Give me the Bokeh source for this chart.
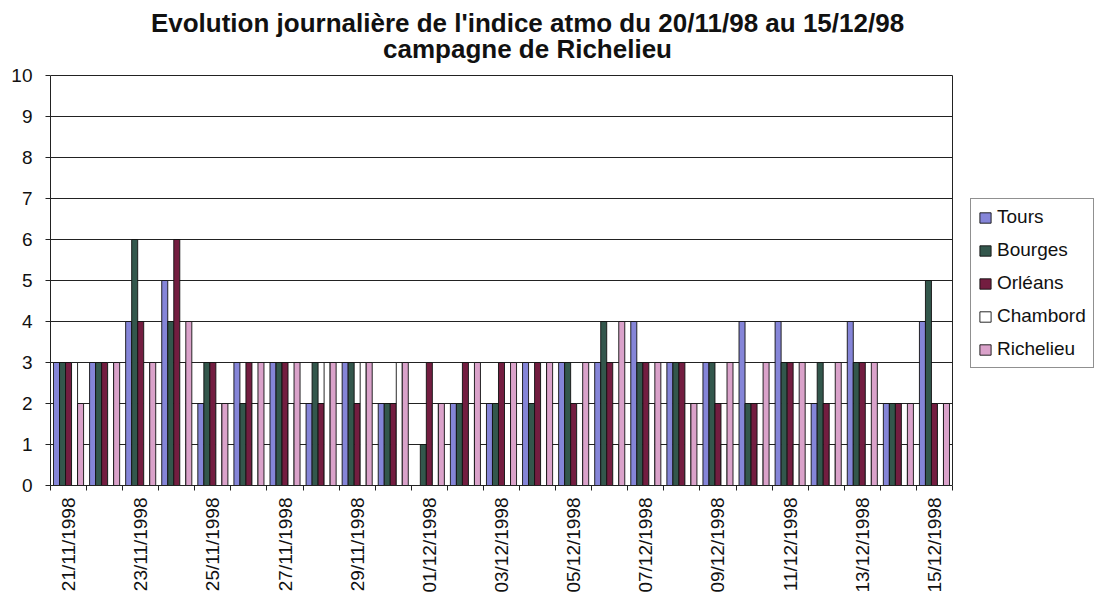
import numpy as np
from bokeh.plotting import figure
from bokeh.models import Range1d, FixedTicker, Legend, LegendItem, Label
from bokeh.embed import file_html
from bokeh.resources import INLINE

dates = ["21/11/1998", "22/11/1998", "23/11/1998", "24/11/1998", "25/11/1998",
         "26/11/1998", "27/11/1998", "28/11/1998", "29/11/1998", "30/11/1998",
         "01/12/1998", "02/12/1998", "03/12/1998", "04/12/1998", "05/12/1998",
         "06/12/1998", "07/12/1998", "08/12/1998", "09/12/1998", "10/12/1998",
         "11/12/1998", "12/12/1998", "13/12/1998", "14/12/1998", "15/12/1998"]
series = ["Tours", "Bourges", "Orléans", "Chambord", "Richelieu"]
tours     = [3, 3, 4, 5, 2, 3, 3, 2, 3, 2, 0, 2, 2, 3, 3, 3, 4, 3, 3, 4, 4, 2, 4, 2, 4]
bourges   = [3, 3, 6, 4, 3, 2, 3, 3, 3, 2, 1, 2, 2, 2, 3, 4, 3, 3, 3, 2, 3, 3, 3, 2, 5]
orleans   = [3, 3, 4, 6, 3, 3, 3, 2, 2, 2, 3, 3, 3, 3, 2, 3, 3, 3, 2, 2, 3, 2, 3, 2, 2]
chambord  = [3, 3, 3, 3, 2, 2, 2, 3, 3, 3, 2, 2, 2, 3, 2, 1, 2, 2, 1, 1, 1, 1, 1, 1, 2]
richelieu = [2, 3, 3, 4, 2, 3, 3, 3, 3, 3, 2, 3, 3, 3, 3, 4, 3, 2, 3, 3, 3, 3, 3, 2, 2]
y_ticks = list(range(0, 11))
colors = ["#8585d8", "#33574c", "#731d40", "#ffffff", "#daa2ca"]
values = [tours, bourges, orleans, chambord, richelieu]

FONT = "Liberation Sans"
INK = "#111111"

# layout (pixels)
W, H = 1095, 604
LEFT, BOTTOM = 50, 119
PLOT_W, PLOT_H = 902, 410          # the chart's plot area
n_days = len(dates)
ymax = y_ticks[-1]
px_x = PLOT_W / n_days
px_y = PLOT_H / ymax
frame_w = W - LEFT
frame_h = H - BOTTOM

x0 = -0.5
x_end = n_days - 0.5
p = figure(width=W, height=H, title=None,
           x_range=Range1d(x0, x0 + frame_w / px_x),
           y_range=Range1d(0, frame_h / px_y),
           output_backend="svg", toolbar_location=None,
           min_border_left=LEFT, min_border_right=0, min_border_top=0,
           min_border_bottom=BOTTOM)
p.outline_line_color = None
p.background_fill_color = "white"
p.border_fill_color = "white"

# gridlines and plot-area border limited to the plot area
gy = y_ticks[1:]
p.segment(x0=[x0] * len(gy), x1=[x_end] * len(gy), y0=gy, y1=gy,
          line_color="#222222", line_width=1, level="underlay")
p.segment(x0=[x_end], x1=[x_end], y0=[0], y1=[ymax],
          line_color="#222222", line_width=1, level="underlay")

n = len(series)
bw = 1.0 / (n + 1)
items = []
for j, (name, vals, col) in enumerate(zip(series, values, colors)):
    xs = [i + (j - (n - 1) / 2) * bw for i in range(n_days)]
    r = p.vbar(x=xs, top=vals, width=bw, fill_color=col, line_color="#111111", line_width=0.9)
    items.append(LegendItem(label=name, renderers=[r]))

# x axis
p.xaxis.bounds = (x0, x_end)
p.xaxis.ticker = FixedTicker(ticks=list(range(0, n_days, 2)),
                             minor_ticks=[i - 0.5 for i in range(n_days + 1)])
p.xaxis.major_label_overrides = {i: dates[i] for i in range(0, n_days, 2)}
p.xaxis.major_label_orientation = np.pi / 2
p.xaxis.major_tick_line_color = None
p.xaxis.major_tick_out = 0
p.xaxis.major_tick_in = 0
p.xaxis.minor_tick_line_color = "#222222"
p.xaxis.minor_tick_out = 5
p.xaxis.minor_tick_in = 0
p.xaxis.major_label_standoff = 7
p.xaxis.major_label_text_font = FONT
p.xaxis.major_label_text_font_size = "19px"
p.xaxis.major_label_text_color = INK
p.xaxis.axis_line_color = "#222222"
p.xgrid.visible = False

# y axis
p.yaxis.bounds = (0, ymax)
p.yaxis.ticker = FixedTicker(ticks=y_ticks, minor_ticks=[])
p.yaxis.major_tick_out = 5
p.yaxis.major_tick_in = 0
p.yaxis.major_tick_line_color = "#222222"
p.yaxis.major_label_standoff = 13
p.yaxis.major_label_text_font = FONT
p.yaxis.major_label_text_font_size = "19px"
p.yaxis.major_label_text_color = INK
p.yaxis.axis_line_color = "#222222"
p.ygrid.visible = False

# title (two centred lines)
for txt, ty in [("Evolution journalière de l'indice atmo du 20/11/98 au 15/12/98", 463),
                ("campagne de Richelieu", 437)]:
    p.add_layout(Label(x=477, y=ty, x_units="screen", y_units="screen", text=txt,
                       text_align="center", text_baseline="middle",
                       text_font=FONT, text_font_size="26px", text_font_style="bold",
                       text_color=INK))

legend = Legend(items=items, location=(920, 117), margin=0, padding=7,
                spacing=11, label_text_font=FONT, label_text_font_size="19px",
                label_text_color=INK, label_height=22, label_standoff=5,
                glyph_width=14, glyph_height=13,
                border_line_color="#222222", border_line_width=1,
                background_fill_color="white", background_fill_alpha=1)
p.add_layout(legend)

open("out.html", "w").write(file_html(p, INLINE))
